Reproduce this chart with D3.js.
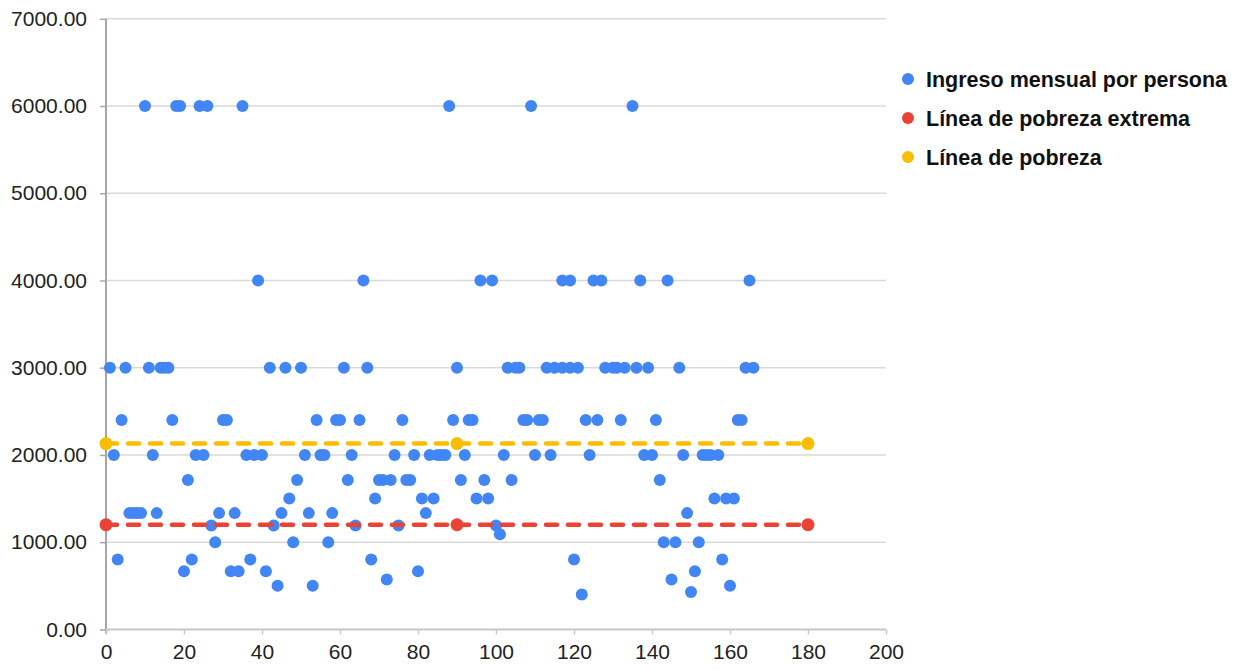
<!DOCTYPE html>
<html>
<head>
<meta charset="utf-8">
<script src="https://cdn.jsdelivr.net/npm/d3@7"></script>
<style>
  body { margin: 0; background: #fff; }
  svg text { font-family: "Liberation Sans", Arial, sans-serif; }
</style>
</head>
<body>
<svg id="chart" width="1241" height="669"></svg>
<script>
// DATA
var personIndex = [
  1, 2, 3, 4, 5, 6, 7, 8, 9, 10, 11, 12, 13, 14, 15, 16, 17, 18, 19, 20,
  21, 22, 23, 24, 25, 26, 27, 28, 29, 30, 31, 32, 33, 34, 35, 36, 37, 38, 39, 40,
  41, 42, 43, 44, 45, 46, 47, 48, 49, 50, 51, 52, 53, 54, 55, 56, 57, 58, 59, 60,
  61, 62, 63, 64, 65, 66, 67, 68, 69, 70, 71, 72, 73, 74, 75, 76, 77, 78, 79, 80,
  81, 82, 83, 84, 85, 86, 87, 88, 89, 90, 91, 92, 93, 94, 95, 96, 97, 98, 99, 100,
  101, 102, 103, 104, 105, 106, 107, 108, 109, 110, 111, 112, 113, 114, 115, 117, 117, 119, 119, 120,
  121, 122, 123, 124, 125, 126, 127, 128, 130, 131, 132, 133, 135, 136, 137, 138, 139, 140, 141, 142,
  143, 144, 145, 146, 147, 148, 149, 150, 151, 152, 153, 154, 155, 156, 157, 158, 159, 160, 161, 162,
  163, 164, 165, 166
];
var monthlyIncome = [
  3000, 2000, 800, 2400, 3000, 1333, 1333, 1333, 1333, 6000, 3000, 2000, 1333, 3000, 3000, 3000, 2400, 6000, 6000, 667,
  1714, 800, 2000, 6000, 2000, 6000, 1190, 1000, 1333, 2400, 2400, 667, 1333, 667, 6000, 2000, 800, 2000, 4000, 2000,
  667, 3000, 1190, 500, 1333, 3000, 1500, 1000, 1714, 3000, 2000, 1333, 500, 2400, 2000, 2000, 1000, 1333, 2400, 2400,
  3000, 1714, 2000, 1190, 2400, 4000, 3000, 800, 1500, 1714, 1714, 571, 1714, 2000, 1190, 2400, 1714, 1714, 2000, 667,
  1500, 1333, 2000, 1500, 2000, 2000, 2000, 6000, 2400, 3000, 1714, 2000, 2400, 2400, 1500, 4000, 1714, 1500, 4000, 1190,
  1090, 2000, 3000, 1714, 3000, 3000, 2400, 2400, 6000, 2000, 2400, 2400, 3000, 2000, 3000, 3000, 4000, 3000, 4000, 800,
  3000, 400, 2400, 2000, 4000, 2400, 4000, 3000, 3000, 3000, 2400, 3000, 6000, 3000, 4000, 2000, 3000, 2000, 2400, 1714,
  1000, 4000, 571, 1000, 3000, 2000, 1333, 430, 667, 1000, 2000, 2000, 2000, 1500, 2000, 800, 1500, 500, 1500, 2400,
  2400, 3000, 4000, 3000
];
var lineX = [0, 90, 180];
var extremePovertyLine = [1200, 1200, 1200];
var povertyLine = [2130, 2130, 2130];
var xTicks = [0, 20, 40, 60, 80, 100, 120, 140, 160, 180, 200];
var yTicks = [0, 1000, 2000, 3000, 4000, 5000, 6000, 7000];
var seriesNames = ["Ingreso mensual por persona", "Línea de pobreza extrema", "Línea de pobreza"];
var seriesColors = ["#4285f4", "#ea4335", "#fbbc04"];

// SCALES
var svg = d3.select("#chart");
var x = d3.scaleLinear().domain([0, 200]).range([106, 886]);
var y = d3.scaleLinear().domain([0, 7000]).range([629.4, 18.8]);

// GRIDLINES
svg.append("g")
  .selectAll("line")
  .data(yTicks.slice(1))
  .join("line")
  .attr("x1", x(0)).attr("x2", x(200))
  .attr("y1", d => y(d)).attr("y2", d => y(d))
  .attr("stroke", "#d9d9d9")
  .attr("stroke-width", 1.5);

// AXES
var yAxis = d3.axisLeft(y).tickValues(yTicks).tickSize(6).tickPadding(13)
  .tickFormat(d => d3.format(".2f")(d));
var yG = svg.append("g").attr("transform", "translate(" + x(0) + ",0)").call(yAxis);
yG.select(".domain").attr("stroke", "#a6a6a6").attr("stroke-width", 2).attr("d", "M0," + y(7000) + "V" + (y(0) + 4));
yG.selectAll(".tick line").attr("stroke", "#a6a6a6").attr("stroke-width", 1.5);
yG.selectAll(".tick text").attr("font-size", 21).attr("fill", "#222").attr("font-family", "Liberation Sans, Arial, sans-serif");

var xAxis = d3.axisBottom(x).tickValues(xTicks).tickSize(5).tickPadding(10);
var xG = svg.append("g").attr("transform", "translate(0," + y(0) + ")").call(xAxis);
xG.select(".domain").attr("stroke", "#c8c8c8").attr("stroke-width", 2).attr("d", "M" + x(0) + ",0H" + x(200));
xG.selectAll(".tick line").attr("stroke", "#c8c8c8").attr("stroke-width", 1.5);
xG.selectAll(".tick text").attr("font-size", 21).attr("fill", "#222").attr("font-family", "Liberation Sans, Arial, sans-serif");

// INCOME POINTS
svg.append("g")
  .selectAll("circle")
  .data(personIndex.map((d, i) => [d, monthlyIncome[i]]))
  .join("circle")
  .attr("cx", d => x(d[0]))
  .attr("cy", d => y(d[1]))
  .attr("r", 6)
  .attr("fill", seriesColors[0]);

// POVERTY LINES
function drawLine(values, color) {
  var pts = lineX.map((d, i) => [d, values[i]]);
  svg.append("path")
    .datum(pts)
    .attr("d", d3.line().x(d => x(d[0])).y(d => y(d[1])))
    .attr("fill", "none")
    .attr("stroke", color)
    .attr("stroke-width", 4.5)
    .attr("stroke-linecap", "round")
    .attr("stroke-dasharray", "11,11");
  svg.append("g")
    .selectAll("circle")
    .data(pts)
    .join("circle")
    .attr("cx", d => x(d[0]))
    .attr("cy", d => y(d[1]))
    .attr("r", 6.5)
    .attr("fill", color);
}
drawLine(extremePovertyLine, seriesColors[1]);
drawLine(povertyLine, seriesColors[2]);

// LEGEND
var legend = svg.append("g").attr("transform", "translate(908,79)");
var item = legend.selectAll("g")
  .data(seriesNames)
  .join("g")
  .attr("transform", (d, i) => "translate(0," + (i * 39) + ")");
item.append("circle").attr("r", 6).attr("fill", (d, i) => seriesColors[i]);
item.append("text")
  .attr("x", 18)
  .attr("dy", "0.36em")
  .attr("font-size", 21.5)
  .attr("font-weight", "bold")
  .attr("fill", "#111")
  .text(d => d);
</script>
</body>
</html>
